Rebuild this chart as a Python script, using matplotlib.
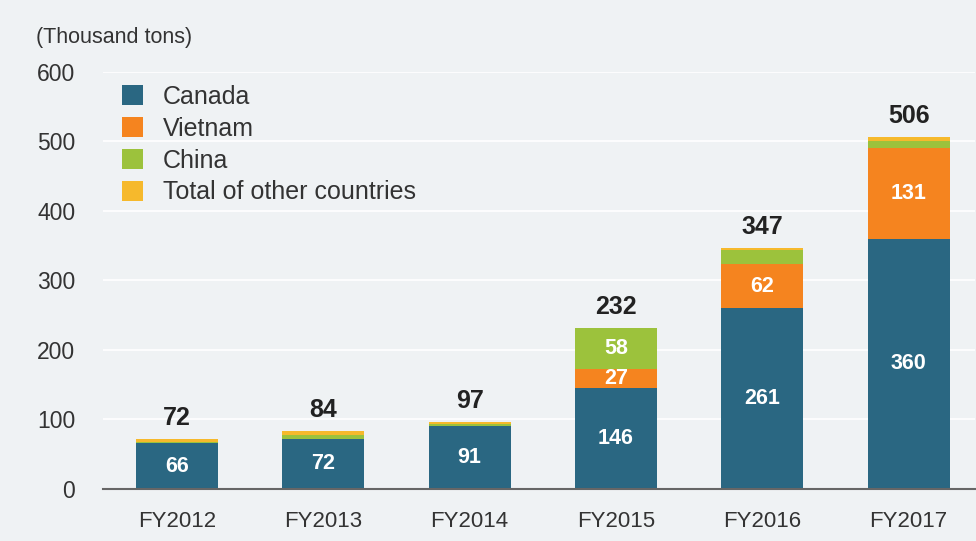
import matplotlib.pyplot as plt
import numpy as np

plt.rcParams["font.family"] = ["Liberation Sans", "DejaVu Sans"]

years = ["FY2012", "FY2013", "FY2014", "FY2015", "FY2016", "FY2017"]
canada = [66, 72, 91, 146, 261, 360]
vietnam = [0, 0, 0, 27, 62, 131]
china = [2, 6, 2, 58, 21, 10]
others = [4, 6, 4, 1, 3, 5]
totals = [72, 84, 97, 232, 347, 506]

series = [
    ("Canada", canada, "#2a6782"),
    ("Vietnam", vietnam, "#f5841f"),
    ("China", china, "#9cc23c"),
    ("Total of other countries", others, "#f6b92c"),
]
# segments that carry a value label inside the bar
inner_min = 25

bg = "#eff2f4"
fig = plt.figure(figsize=(9.76, 5.41), dpi=100, facecolor=bg)
ax = fig.add_axes([0.1055, 0.0961, 0.893, 0.771], facecolor=bg)

x = np.arange(len(years))
bottom = np.zeros(len(years))
for name, vals, color in series:
    vals = np.array(vals, dtype=float)
    ax.bar(x, vals, 0.56, bottom=bottom, color=color, label=name, zorder=3)
    for xi, b, v in zip(x, bottom, vals):
        if v >= inner_min:
            ax.text(xi, b + v / 2, f"{int(v)}", ha="center", va="center",
                    color="white", fontsize=15.5, fontweight="bold", zorder=4)
    bottom += vals

for xi, t in zip(x, totals):
    ax.annotate(f"{t}", (xi, t), xytext=(0, 6.5), textcoords="offset points",
                ha="center", va="bottom", fontsize=18, fontweight="bold",
                color="#222222")

ax.set_xlim(-0.505, 5.45)
ax.set_ylim(0, 600)
ax.set_yticks(range(0, 601, 100))
ax.set_xticks(x)
ax.set_xticklabels(years)
ax.tick_params(axis="both", length=0, colors="#333333")
ax.tick_params(axis="y", pad=20, labelsize=16.5)
ax.tick_params(axis="x", pad=16, labelsize=16)
ax.grid(axis="y", color="white", linewidth=1.2, zorder=0)
for s in ["top", "right", "left"]:
    ax.spines[s].set_visible(False)
ax.spines["bottom"].set_color("#666666")
ax.spines["bottom"].set_linewidth(1.5)
ax.spines["bottom"].set_zorder(5)

fig.text(36 / 976, 1 - 37 / 541, "(Thousand tons)", fontsize=15.5,
         color="#333333", va="center", ha="left")

leg = ax.legend(loc="upper left", bbox_to_anchor=(122 / 976, 1 - 85 / 541),
                bbox_transform=fig.transFigure, frameon=False, fontsize=18,
                handlelength=0.85, handleheight=0.85, handletextpad=0.8,
                labelspacing=0.31, borderpad=0, borderaxespad=0)
for t in leg.get_texts():
    t.set_color("#333333")

fig.savefig("out.png", dpi=100, facecolor=bg)
